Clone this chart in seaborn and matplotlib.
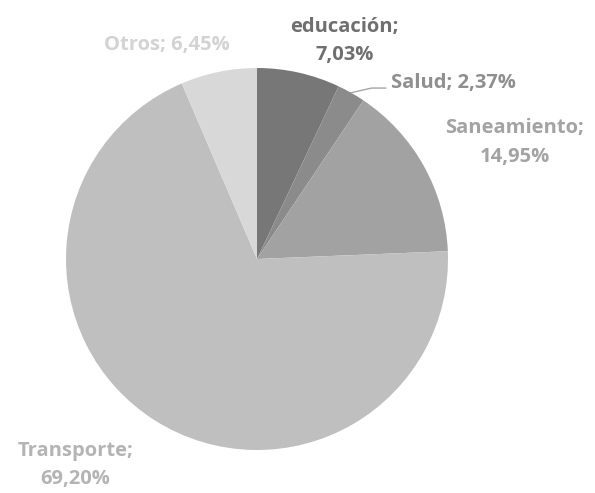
import matplotlib
matplotlib.use("Agg")
import matplotlib.pyplot as plt
import seaborn as sns

# --- data ---
categories = ["educación", "Salud", "Saneamiento", "Transporte", "Otros"]
shares = [7.03, 2.37, 14.95, 69.20, 6.45]

# slice / label greys
slice_colors = ["#777777", "#8b8b8b", "#a2a2a2", "#bfbfbf", "#d8d8d8"]
label_colors = ["#6f6f6f", "#8f8f8f", "#a3a3a3", "#b4b4b4", "#d3d3d3"]

sns.set_theme(style="white")
plt.rcParams["font.family"] = ["Open Sans", "DejaVu Sans"]

fig = plt.figure(figsize=(5.95, 4.93), dpi=100)
# pie centre at (257, 259) px, radius 191 px
ax = fig.add_axes([66 / 595, (493 - 259 - 191) / 493, 382 / 595, 382 / 493])

ax.pie(shares, colors=slice_colors, startangle=90, counterclock=False,
       wedgeprops=dict(linewidth=0))
ax.set_xlim(-1, 1)
ax.set_ylim(-1, 1)
ax.set_aspect("equal")
ax.axis("off")

def fmt(v):
    return f"{v:.2f}".replace(".", ",") + "%"

# label placement (in pie units), alignment
label_pos = [(0.46, 1.14), (0.70, 0.92), (1.35, 0.61), (-0.95, -1.08), (-0.47, 1.12)]
label_ha = ["center", "left", "center", "center", "center"]
two_lines = [True, False, True, True, False]

for cat, val, pos, ha, col, split in zip(categories, shares, label_pos, label_ha,
                                         label_colors, two_lines):
    sep = ";\n" if split else "; "
    ax.text(pos[0], pos[1], f"{cat}{sep}{fmt(val)}", ha=ha, va="center",
            multialignment="center", fontsize=14.5, fontweight="bold",
            color=col, linespacing=1.55)

# leader line for Salud
ax.plot([0.49, 0.60, 0.675], [0.87, 0.895, 0.895], color="#a6a6a6", lw=1)

fig.savefig("out.png", dpi=100, facecolor="white")
